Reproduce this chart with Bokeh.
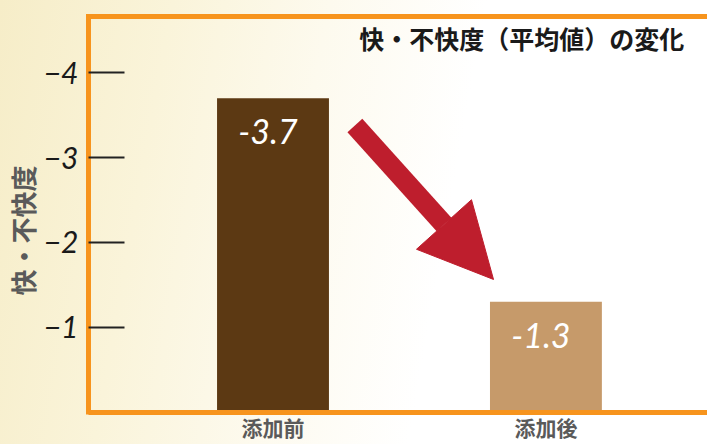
from bokeh.plotting import figure
from bokeh.models import (Range1d, FixedTicker, LinearAxis, Label, Arrow,
                          NormalHead, ColumnDataSource)
from bokeh.core.properties import value
from bokeh.embed import file_html
from bokeh.resources import INLINE

# ---- data ----
categories = ["添加前", "添加後"]
values = [-3.7, -1.3]
value_labels = ["-3.7", "-1.3"]
bar_colors = ["#5c3913", "#c69a6a"]
y_ticks = [-4, -3, -2, -1]
y_tick_labels = ["−4", "−3", "−2", "−1"]
title_text = "快・不快度（平均値）の変化"
y_axis_title = "快・不快度"

ORANGE = "#f7941d"
RED = "#be1e2d"
CJK = "Noto Sans CJK JP"

Y_TOP = -4.664
Y_BOTTOM = 0.383

xs = list(range(len(categories)))
src = ColumnDataSource(dict(x=xs, top=values, color=bar_colors, label=value_labels))

p = figure(width=707, height=444, output_backend="svg", toolbar_location=None,
           x_range=Range1d(-0.676, 1.592), y_range=Range1d(Y_BOTTOM, Y_TOP),
           min_border_left=88, min_border_right=0, min_border_top=16,
           min_border_bottom=0, x_axis_location=None, y_axis_location=None)
p.background_fill_color = None
p.border_fill_color = None
p.outline_line_color = None
p.styles = {"background": "linear-gradient(100deg, #f6edc8 0%, #faf4da 22%, #fdfaee 42%, #ffffff 62%)"}
p.xgrid.visible = False
p.ygrid.visible = False

# left axis (line only spans the boxed area)
ya = LinearAxis(ticker=FixedTicker(ticks=y_ticks), bounds=(Y_TOP - 0.03, 0.03),
                major_label_overrides={t: l for t, l in zip(y_ticks, y_tick_labels)})
ya.axis_line_color = ORANGE
ya.axis_line_width = 5
ya.major_tick_in = 36
ya.major_tick_out = 0
ya.major_tick_line_color = "#222222"
ya.major_tick_line_width = 2
ya.minor_tick_line_color = None
ya.major_label_text_font = "Lato"
ya.major_label_text_font_style = "italic"
ya.major_label_text_font_size = "30px"
ya.major_label_text_color = "#1a1a1a"
ya.major_label_standoff = 10
ya.axis_label = y_axis_title
ya.axis_label_text_font = CJK
ya.axis_label_text_font_style = "bold"
ya.axis_label_text_font_size = "26px"
ya.axis_label_text_color = "#5a5a5a"
ya.axis_label_standoff = 0
p.add_layout(ya, "left")

# bottom axis fixed at value 0 (frame line + category labels)
xa = LinearAxis(ticker=FixedTicker(ticks=xs), fixed_location=0,
                major_label_overrides={i: c for i, c in zip(xs, categories)})
xa.axis_line_color = ORANGE
xa.axis_line_width = 5
xa.axis_line_cap = "square"
xa.major_tick_line_color = None
xa.minor_tick_line_color = None
xa.major_label_text_font = CJK
xa.major_label_text_font_style = "bold"
xa.major_label_text_font_size = "21px"
xa.major_label_text_color = "#5a5a5a"
xa.major_label_standoff = -6
p.add_layout(xa, "below")

# top frame line
ta = LinearAxis(ticker=FixedTicker(ticks=[]))
ta.axis_line_color = ORANGE
ta.axis_line_width = 5
ta.axis_line_cap = "square"
ta.major_tick_line_color = None
ta.minor_tick_line_color = None
ta.major_label_text_font_size = "0px"
ta.major_label_standoff = 0
p.add_layout(ta, "above")

# bars
p.vbar(x="x", top="top", bottom=0, width=0.41, fill_color="color",
       line_color=None, source=src)
p.text(x="x", y="top", text="label", source=src, text_color="white",
       text_font=value("Lato"), text_font_style="italic", text_font_size="34px",
       text_align="center", text_baseline="top", x_offset=-5, y_offset=21)

# arrow
p.add_layout(Arrow(end=NormalHead(size=74, fill_color=RED, line_color=RED, line_width=1),
                   x_start=0.300, y_start=-3.378, x_end=0.808, y_end=-1.563,
                   line_color=RED, line_width=20))

# title inside frame
p.add_layout(Label(x=1.507, y=-4.416, text=title_text, text_align="right",
                   text_baseline="middle", text_font=CJK, text_font_style="bold",
                   text_font_size="25px", text_color="#1a1a1a"))

open("out.html", "w").write(file_html(p, INLINE))
